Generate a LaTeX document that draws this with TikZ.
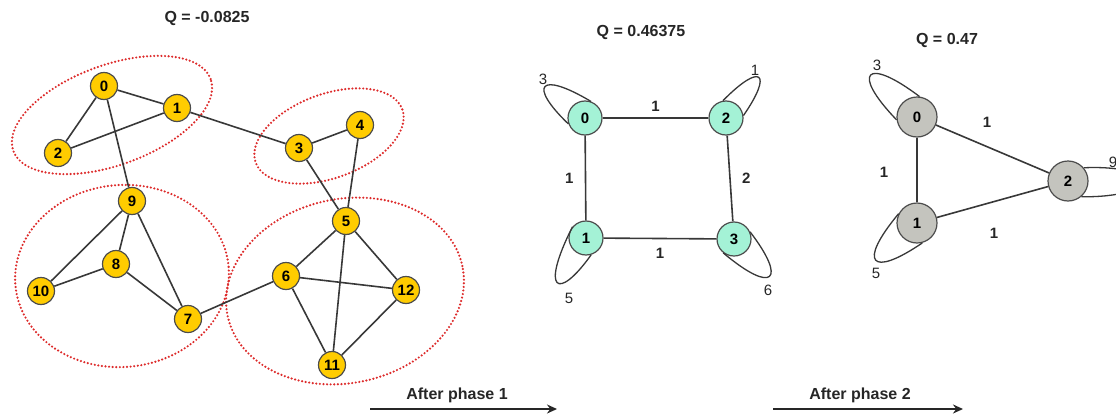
\documentclass[tikz,border=0pt]{standalone}
\usepackage{fontspec}
\setmainfont{Liberation Sans}
\usetikzlibrary{calc,arrows.meta}
\definecolor{gold}{HTML}{FFCC00}
\definecolor{mint}{HTML}{A4F2D6}
\definecolor{stone}{HTML}{C4C4BE}
\definecolor{ringred}{HTML}{DD2B2B}
\tikzset{
  yv/.style={circle, draw=black!70, line width=1.2pt, fill=gold, minimum size=27pt,
    inner sep=0pt, font=\fontsize{15}{15}\selectfont\bfseries},
  mv/.style={yv, fill=mint, minimum size=34pt},
  gv/.style={yv, fill=stone, minimum size=40pt},
  link/.style={draw=black!78, line width=1.6pt},
  loopline/.style={draw=black!78, line width=1.3pt},
  ring/.style={draw=ringred, line width=2.4pt, line cap=round, dash pattern=on 0pt off 3.6pt},
  qtext/.style={font=\fontsize{16}{16}\selectfont\bfseries, text=black!85},
  wtext/.style={font=\fontsize{15}{15}\selectfont\bfseries, text=black!85},
  ltext/.style={font=\fontsize{15}{15}\selectfont, text=black!85},
  phase/.style={draw=black!85, line width=2.2pt, -{Stealth[length=10pt,width=9pt]}},
}
\begin{document}
\begin{tikzpicture}[x=1pt,y=-1pt]
\useasboundingbox (0,0) rectangle (1116,415);

% ---------- original network ----------
\node[qtext] (q0) at (207,18) {Q = -0.0825};

% communities
\begin{scope}[shift={(112,115)}, rotate=20]
  \draw[ring] (0,0) ellipse [x radius=105pt, y radius=50pt];
\end{scope}
\begin{scope}[shift={(329,136)}, rotate=20]
  \draw[ring] (0,0) ellipse [x radius=78pt, y radius=42pt];
\end{scope}
\begin{scope}[shift={(122,276)}, rotate=5]
  \draw[ring] (0,0) ellipse [x radius=107pt, y radius=91pt];
\end{scope}
\begin{scope}[shift={(345,291)}, rotate=12]
  \draw[ring] (0,0) ellipse [x radius=120pt, y radius=92pt];
\end{scope}

\node[yv] (v0) at (104,86) {0};
\node[yv] (v1) at (177,108) {1};
\node[yv] (v2) at (58,153) {2};
\node[yv] (v3) at (299,148) {3};
\node[yv] (v4) at (360,125) {4};
\node[yv] (v5) at (346,221) {5};
\node[yv] (v6) at (286,276) {6};
\node[yv] (v7) at (188,319) {7};
\node[yv] (v8) at (116,264) {8};
\node[yv] (v9) at (132,201) {9};
\node[yv] (v10) at (41,291) {10};
\node[yv] (v11) at (332,365) {11};
\node[yv] (v12) at (406,290) {12};

\draw[link] (v0) -- (v1);
\draw[link] (v0) -- (v2);
\draw[link] (v1) -- (v2);
\draw[link] (v0) -- (v9);
\draw[link] (v1) -- (v3);
\draw[link] (v3) -- (v4);
\draw[link] (v3) -- (v5);
\draw[link] (v4) -- (v5);
\draw[link] (v9) -- (v10);
\draw[link] (v9) -- (v8);
\draw[link] (v9) -- (v7);
\draw[link] (v8) -- (v10);
\draw[link] (v8) -- (v7);
\draw[link] (v7) -- (v6);
\draw[link] (v5) -- (v6);
\draw[link] (v5) -- (v12);
\draw[link] (v5) -- (v11);
\draw[link] (v6) -- (v12);
\draw[link] (v6) -- (v11);
\draw[link] (v11) -- (v12);

% ---------- after phase 1 ----------
\node[qtext] (q1) at (641,32) {Q = 0.46375};

\node[mv] (m0) at (585,118) {0};
\node[mv] (m2) at (726,118) {2};
\node[mv] (m1) at (586,238) {1};
\node[mv] (m3) at (734,239) {3};

\draw[link] (m0) -- node[wtext, above=2pt] {1} (m2);
\draw[link] (m0) -- node[wtext, left=8pt] {1} (m1);
\draw[link] (m2) -- node[wtext, right=8pt] {2} (m3);
\draw[link] (m1) -- node[wtext, below=6pt] {1} (m3);

% self-loops, drawn as narrow leaves
\draw[loopline] (m0.70) .. controls ($(m0)+(134:66pt)$) and ($(m0)+(150:66pt)$) .. (m0.200);
\draw[loopline] (m2.100) .. controls ($(m2)+(58:66pt)$) and ($(m2)+(44:66pt)$) .. (m2.8);
\draw[loopline] (m1.140) .. controls ($(m1)+(229:70pt)$) and ($(m1)+(246:70pt)$) .. (m1.287);
\draw[loopline] (m3.24) .. controls ($(m3)+(322:68pt)$) and ($(m3)+(305:68pt)$) .. (m3.232);

\node[ltext] (l3) at (543,79) {3};
\node[ltext] (l1) at (755,70) {1};
\node[ltext] (l5) at (569,298) {5};
\node[ltext] (l6) at (768,290) {6};

% ---------- after phase 2 ----------
\node[qtext] (q2) at (947,40) {Q = 0.47};

\node[gv] (g0) at (917,117) {0};
\node[gv] (g1) at (917,223) {1};
\node[gv] (g2) at (1068,181) {2};

\draw[link] (g0) -- (g1);
\draw[link] (g0) -- (g2);
\draw[link] (g1) -- (g2);

\node[wtext] (w01) at (884,172) {1};
\node[wtext] (w02) at (987,122) {1};
\node[wtext] (w12) at (994,233) {1};

\draw[loopline] (g0.83) .. controls ($(g0)+(130:80pt)$) and ($(g0)+(146:80pt)$) .. (g0.188);
\draw[loopline] (g1.153) .. controls ($(g1)+(214:72pt)$) and ($(g1)+(230:72pt)$) .. (g1.285);
\draw[loopline] (g2.40) .. controls ($(g2)+(10:95pt)$) and ($(g2)+(-10:95pt)$) .. (g2.-50);

\node[ltext] (k3) at (877,65) {3};
\node[ltext] (k5) at (876,273) {5};
\node[ltext] (k9) at (1113,162) {9};

% ---------- phase arrows ----------
\coordinate (p1s) at (370,409);
\coordinate (p1e) at (557,409);
\coordinate (p2s) at (773,409);
\coordinate (p2e) at (963,409);
\draw[phase] (p1s) -- (p1e);
\draw[phase] (p2s) -- (p2e);
\node[qtext] (t1) at (457,395) {After phase 1};
\node[qtext] (t2) at (860,395) {After phase 2};
\end{tikzpicture}
\end{document}
